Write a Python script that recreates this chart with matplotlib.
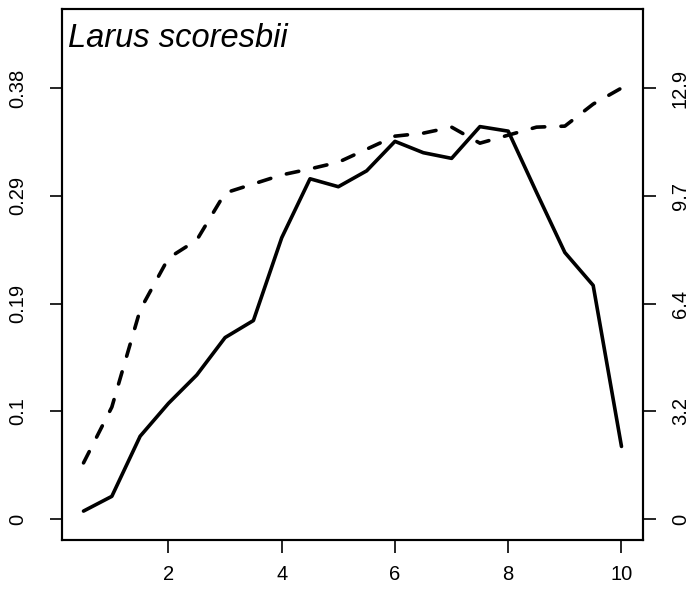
import matplotlib
matplotlib.use("Agg")
import matplotlib.pyplot as plt

plt.rcParams['font.family'] = ['Liberation Sans', 'DejaVu Sans']

# data
x = [0.5, 1, 1.5, 2, 2.5, 3, 3.5, 4, 4.5, 5, 5.5, 6, 6.5, 7, 7.5, 8, 8.5, 9, 9.5, 10]
solid = [0.007, 0.020, 0.073, 0.102, 0.127, 0.160, 0.175, 0.248, 0.300, 0.293,
         0.307, 0.333, 0.323, 0.318, 0.346, 0.342, 0.288, 0.235, 0.206, 0.064]
dashed = [1.68, 3.35, 6.26, 7.81, 8.35, 9.76, 10.03, 10.30, 10.48, 10.68,
          11.07, 11.46, 11.55, 11.73, 11.25, 11.49, 11.73, 11.76, 12.42, 12.9]

left_ticks = [0, 0.095, 0.19, 0.285, 0.38]
left_labels = ['0', '0.1', '0.19', '0.29', '0.38']
right_ticks = [0, 3.225, 6.45, 9.675, 12.9]
right_labels = ['0', '3.2', '6.4', '9.7', '12.9']
x_ticks = [2, 4, 6, 8, 10]
title = 'Larus scoresbii'

fig = plt.figure(figsize=(7, 5.96), dpi=100)
ax = fig.add_axes([62 / 700, 56 / 596, 581 / 700, 531 / 596])

ylo, yhi = -0.0185, 0.4497
scale = 12.9 / 0.38

ax.plot(x, solid, color='black', lw=2.6, solid_capstyle='round', solid_joinstyle='round')
ax.set_xlim(0.12, 10.38)
ax.set_ylim(ylo, yhi)

ax2 = ax.twinx()
ax2.plot(x, dashed, color='black', lw=2.6, dashes=(3.5, 4.5), dash_capstyle='round')
ax2.set_ylim(ylo * scale, yhi * scale)

ax.set_xticks(x_ticks)
ax.set_xticklabels([str(t) for t in x_ticks])
ax.set_yticks(left_ticks)
ax.set_yticklabels(left_labels, rotation=90, va='center')
ax2.set_yticks(right_ticks)
ax2.set_yticklabels(right_labels, rotation=90, va='center')

for a in (ax, ax2):
    for s in a.spines.values():
        s.set_linewidth(1.5)
ax.tick_params(axis='x', length=9, width=1.2, labelsize=14.5, pad=9)
ax.tick_params(axis='y', length=9, width=1.2, labelsize=14.5, pad=16)
ax2.tick_params(axis='y', length=9, width=1.2, labelsize=14.5, pad=11)

ax.text(0.011, 0.928, title, transform=ax.transAxes, fontsize=23.5,
        style='italic', va='baseline', ha='left')

fig.savefig('out.png', dpi=100)
